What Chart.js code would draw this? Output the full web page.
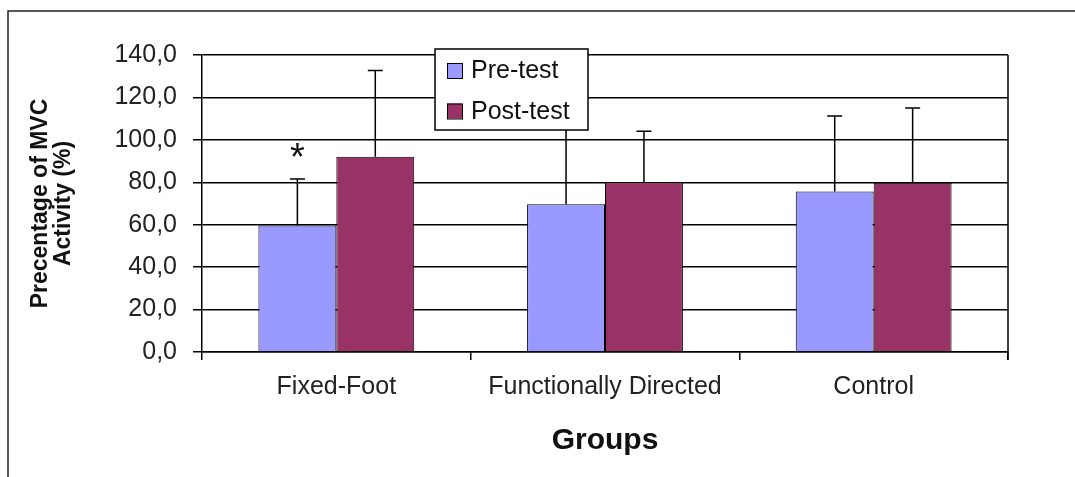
<!DOCTYPE html>
<html>
<head>
<meta charset="utf-8">
<script src="https://cdn.jsdelivr.net/npm/chart.js@4.4.1/dist/chart.umd.min.js"></script>
<style>
  html, body { margin: 0; padding: 0; background: #fff; }
  #wrap { width: 1075px; height: 477px; }
</style>
</head>
<body>
<div id="wrap"><canvas id="chart" width="1075" height="477"></canvas></div>
<script>
// values
const groups = ['Fixed-Foot', 'Functionally Directed', 'Control'];
const seriesNames = ['Pre-test', 'Post-test'];
const preMeans = [59.6, 69.7, 75.7];
const postMeans = [92.0, 80.0, 79.8];
const preSD = [22.0, 38.0, 35.5];
const postSD = [40.7, 24.0, 35.2];
const yTickLabels = ['0,0', '20,0', '40,0', '60,0', '80,0', '100,0', '120,0', '140,0'];
const marks = [{group: 0, series: 0, text: '*'}];

const FONT = '"Liberation Sans", Arial, sans-serif';
const sds = [preSD, postSD];

// outer frame (only top and left edges show in the picture)
const frame = {
  id: 'frame',
  beforeDraw(chart) {
    const ctx = chart.ctx;
    ctx.save();
    ctx.fillStyle = '#fff';
    ctx.fillRect(0, 0, chart.width, chart.height);
    ctx.strokeStyle = '#222';
    ctx.lineWidth = 1.5;
    ctx.beginPath();
    ctx.moveTo(8, chart.height);
    ctx.lineTo(8, 11);
    ctx.lineTo(chart.width, 11);
    ctx.stroke();
    ctx.restore();
  },
  beforeDatasetsDraw(chart) {
    const {ctx, chartArea: a} = chart;
    ctx.save();
    ctx.strokeStyle = '#000';
    ctx.lineWidth = 1.5;
    ctx.beginPath();
    ctx.moveTo(a.right, a.top);
    ctx.lineTo(a.right, a.bottom + 8);
    ctx.stroke();
    ctx.restore();
  }
};

const errorBars = {
  id: 'errorBars',
  afterDatasetsDraw(chart) {
    const ctx = chart.ctx;
    const y = chart.scales.y;
    ctx.save();
    ctx.strokeStyle = '#000';
    ctx.lineWidth = 1.5;
    chart.data.datasets.forEach((ds, i) => {
      chart.getDatasetMeta(i).data.forEach((bar, j) => {
        const top = y.getPixelForValue(ds.data[j] + sds[i][j]);
        ctx.beginPath();
        ctx.moveTo(bar.x, bar.y);
        ctx.lineTo(bar.x, top);
        ctx.moveTo(bar.x - 7.5, top);
        ctx.lineTo(bar.x + 7.5, top);
        ctx.stroke();
      });
    });
    // significance marks above the error bars
    ctx.fillStyle = '#111';
    ctx.font = '38px ' + FONT;
    ctx.textAlign = 'center';
    ctx.textBaseline = 'alphabetic';
    marks.forEach(m => {
      const bar = chart.getDatasetMeta(m.series).data[m.group];
      const ds = chart.data.datasets[m.series];
      const top = y.getPixelForValue(ds.data[m.group] + sds[m.series][m.group]);
      ctx.fillText(m.text, bar.x, top - 9);
    });
    ctx.restore();
  }
};

const legendBox = {
  id: 'legendBox',
  afterDraw(chart) {
    const ctx = chart.ctx;
    const x = 435, y = 49, w = 153, h = 81;
    ctx.save();
    ctx.fillStyle = '#fff';
    ctx.fillRect(x, y, w, h);
    ctx.strokeStyle = '#000';
    ctx.lineWidth = 1.5;
    ctx.strokeRect(x, y, w, h);
    ctx.font = '25px ' + FONT;
    ctx.textBaseline = 'alphabetic';
    ctx.textAlign = 'left';
    chart.data.datasets.forEach((ds, i) => {
      const base = y + 29 + i * 40.5;
      ctx.fillStyle = ds.backgroundColor;
      ctx.fillRect(x + 12, base - 15, 15, 15);
      ctx.lineWidth = 1;
      ctx.strokeStyle = '#000';
      ctx.strokeRect(x + 12.5, base - 14.5, 15, 15);
      ctx.fillStyle = '#111';
      ctx.fillText(ds.label, x + 36, base);
    });
    ctx.restore();
  }
};

new Chart(document.getElementById('chart'), {
  type: 'bar',
  data: {
    labels: groups,
    datasets: [
      {label: seriesNames[0], data: preMeans, backgroundColor: '#9999FF', borderColor: '#000', borderWidth: 1},
      {label: seriesNames[1], data: postMeans, backgroundColor: '#993366', borderColor: '#000', borderWidth: 1}
    ]
  },
  options: {
    responsive: false,
    animation: false,
    devicePixelRatio: 1,
    categoryPercentage: 0.58,
    barPercentage: 1.0,
    layout: {padding: {left: 0, top: 55, right: 67, bottom: 0}},
    plugins: {legend: {display: false}, tooltip: {enabled: false}},
    scales: {
      x: {
        afterFit: s => { s.height = 125; },
        grid: {display: true, drawOnChartArea: false, offset: true, tickLength: 8, color: '#000', lineWidth: 1.5},
        border: {display: true, color: '#000', width: 1.5},
        ticks: {font: {family: FONT, size: 25}, color: '#222', padding: 12, maxRotation: 0},
        title: {display: true, text: 'Groups', font: {family: FONT, size: 30, weight: 'bold'}, color: '#111', padding: {top: 0, bottom: 18}}
      },
      y: {
        min: 0, max: 140,
        afterFit: s => { s.width = 202; },
        ticks: {stepSize: 20, font: {family: FONT, size: 25}, color: '#222', padding: 16,
                callback: (v, i) => yTickLabels[i]},
        grid: {color: '#000', lineWidth: 1.5, tickLength: 9},
        border: {display: true, color: '#000', width: 1.5},
        title: {display: true, text: ['Precentage of MVC', 'Activity (%)'],
                font: {family: FONT, size: 23, weight: 'bold', lineHeight: 1.0}, color: '#111',
                padding: {top: 29, bottom: 0}}
      }
    }
  },
  plugins: [frame, errorBars, legendBox]
});
</script>
</body>
</html>
